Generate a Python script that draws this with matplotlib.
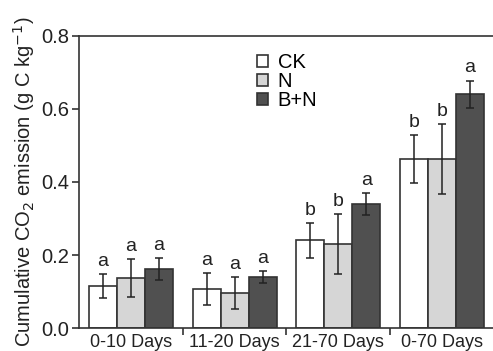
import matplotlib
matplotlib.use("Agg")
import matplotlib.pyplot as plt
import numpy as np

plt.rcParams['font.family'] = ['Liberation Sans', 'DejaVu Sans']

groups = ["0-10 Days", "11-20 Days", "21-70 Days", "0-70 Days"]
series = ["CK", "N", "B+N"]
ck = [0.115, 0.107, 0.240, 0.463]
n = [0.137, 0.095, 0.230, 0.463]
bn = [0.162, 0.140, 0.340, 0.641]
ck_err = [0.033, 0.043, 0.047, 0.066]
n_err = [0.052, 0.044, 0.082, 0.096]
bn_err = [0.030, 0.017, 0.030, 0.037]
ck_sig = ["a", "a", "b", "b"]
n_sig = ["a", "a", "b", "b"]
bn_sig = ["a", "a", "a", "a"]

colors = ["#ffffff", "#d6d6d6", "#505050"]
edge = "#333333"
txt = "#222222"

fig = plt.figure(figsize=(4.93, 3.51), dpi=100)
ax = fig.add_axes([0.160, 0.0655, 0.842, 0.832])

x = np.arange(len(groups))
w = 0.27
vals = [ck, n, bn]
errs = [ck_err, n_err, bn_err]
sigs = [ck_sig, n_sig, bn_sig]
for i, (v, e, s) in enumerate(zip(vals, errs, sigs)):
    pos = x + (i - 1) * w
    ax.bar(pos, v, w, color=colors[i], edgecolor=edge, linewidth=1.2, label=series[i], zorder=2)
    ax.errorbar(pos, v, yerr=e, fmt='none', ecolor=txt, elinewidth=1.1, capsize=3, capthick=1.1, zorder=3)
    for p, vv, ee, ss in zip(pos, v, e, s):
        ax.annotate(ss, (p, vv + ee), xytext=(0, 3), textcoords='offset points',
                    ha='center', va='bottom', fontsize=14, color=txt)

ax.set_xlim(-0.5, 3.5)
ax.set_ylim(0, 0.8)
ax.set_yticks([0.0, 0.2, 0.4, 0.6, 0.8])
ax.set_yticklabels(["0.0", "0.2", "0.4", "0.6", "0.8"])
ax.set_xticks(x)
ax.set_xticklabels(groups)
ax.set_xticks([0.5, 1.5, 2.5], minor=True)
ax.tick_params(axis='x', which='major', length=0, pad=4, labelsize=13, labelcolor=txt)
ax.tick_params(axis='x', which='minor', length=5, width=1.2, direction='out', color=edge)
ax.tick_params(axis='y', length=5, width=1.2, pad=2, labelsize=14.5, labelcolor=txt, color=edge)

for sp in ['left', 'bottom', 'top']:
    ax.spines[sp].set_linewidth(1.2)
    ax.spines[sp].set_color(edge)
ax.spines['right'].set_visible(False)

ax.set_ylabel("Cumulative CO$_2$ emission (g C kg$^{-1}$)", fontsize=14.5, color=txt, labelpad=3)

ax.legend(loc='upper left', bbox_to_anchor=(0.43, 0.94), frameon=False, fontsize=14.5,
          handlelength=0.55, handleheight=0.55, handletextpad=0.45, labelspacing=0.0,
          borderpad=0, borderaxespad=0)

fig.savefig("out.png", dpi=100)
